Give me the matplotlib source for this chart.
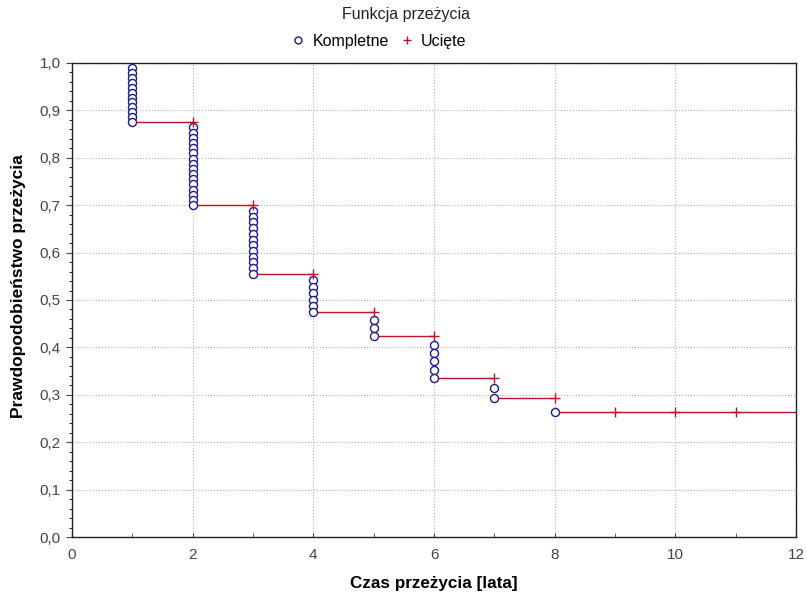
import numpy as np
import matplotlib.pyplot as plt
from matplotlib.ticker import MultipleLocator, FuncFormatter
from matplotlib.lines import Line2D

plt.rcParams['font.family'] = ['Liberation Sans', 'DejaVu Sans']

# dane: czas, liczba zgonow (kompletne) i obserwacji uciętych
n_total = 96
times = [1, 2, 3, 4, 5, 6, 7, 8, 9, 10, 11, 13]
deaths = [12, 16, 12, 6, 3, 5, 2, 1, 0, 0, 0, 0]
censored = [0, 4, 6, 5, 7, 1, 3, 4, 3, 3, 2, 1]

# estymator Kaplana-Meiera (ucięte liczone przed zgonami w tym samym czasie)
circ_x, circ_y = [], []
cens_x, cens_y = [], []
seg_x, seg_y = [], []
s = 1.0
at_risk = n_total
for t, d, c in zip(times, deaths, censored):
    if c > 0:
        cens_x.append(t)
        cens_y.append(s)
    at_risk -= c
    r = at_risk
    for k in range(1, d + 1):
        circ_x.append(t)
        circ_y.append(s * (r - k) / r)
    if d > 0:
        s = s * (r - d) / r
    at_risk -= d
    seg_x.append(t)
    seg_y.append(s)

fig = plt.figure(figsize=(8.07, 5.92), dpi=100)
ax = fig.add_axes([0.0892, 0.0929, 0.8972, 0.8007])

red = '#c0102a'
blue = '#1c1c8a'

for i in range(len(seg_x) - 1):
    ax.plot([seg_x[i], seg_x[i + 1]], [seg_y[i], seg_y[i]], color=red, lw=1.0, zorder=2)

ax.plot(circ_x, circ_y, 'o', ms=5.8, mfc='white', mec=blue, mew=1.0, zorder=3)
ax.plot(cens_x, cens_y, '+', ms=7, color=red, mew=1.0, zorder=4)

ax.set_xlim(0, 12)
ax.set_ylim(0, 1.0)
ax.xaxis.set_major_locator(MultipleLocator(2))
ax.xaxis.set_minor_locator(MultipleLocator(1))
ax.yaxis.set_major_locator(MultipleLocator(0.1))
ax.yaxis.set_minor_locator(MultipleLocator(0.02))
ax.yaxis.set_major_formatter(FuncFormatter(lambda v, p: f'{v:.1f}'.replace('.', ',')))
ax.tick_params(axis='x', which='both', direction='in', length=3, labelsize=11, colors='#444444', pad=8)
ax.tick_params(axis='y', which='major', direction='out', length=4, labelsize=11, colors='#444444', pad=4)
ax.tick_params(axis='y', which='minor', direction='out', length=2)
ax.grid(True, which='major', color='#b0b0b0', ls=':', lw=0.8)
for sp in ax.spines.values():
    sp.set_color('#222222')
    sp.set_linewidth(1.0)

ax.set_xlabel('Czas przeżycia [lata]', fontsize=12.3, fontweight='bold', labelpad=10)
ax.set_ylabel('Prawdopodobieństwo przeżycia', fontsize=12.5, fontweight='bold')
ax.yaxis.set_label_coords(-0.063, 0.53)

fig.text(0.503, 0.988, 'Funkcja przeżycia', ha='center', va='top', fontsize=11.5, color='#222222')
handles = [Line2D([], [], ls='none', marker='o', ms=5, mfc='white', mec=blue, mew=1.0),
           Line2D([], [], ls='none', marker='+', ms=6, color=red, mew=1.0)]
fig.legend(handles, ['Kompletne', 'Ucięte'], loc='center', bbox_to_anchor=(0.468, 0.93),
           ncol=2, frameon=False, fontsize=11.5, handletextpad=0.3, columnspacing=0.5,
           handlelength=1.2)

fig.savefig('out.png', dpi=100)
